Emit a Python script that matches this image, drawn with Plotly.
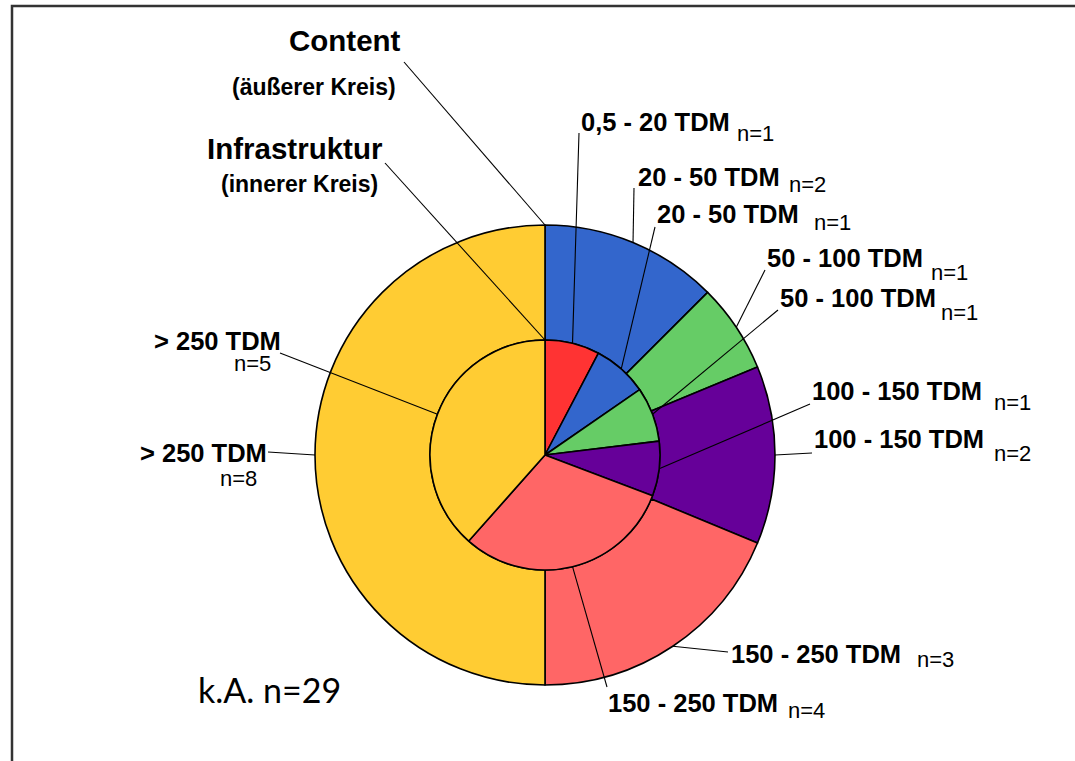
import math
import plotly.graph_objects as go

W, H = 1075, 761

# Outer ring: Content budgets (number of answers per class)
content_labels = ["20 - 50 TDM", "50 - 100 TDM", "100 - 150 TDM", "150 - 250 TDM", "> 250 TDM"]
content_counts = [2, 1, 2, 3, 8]
content_colors = ["#3366CC", "#66CC66", "#660099", "#FF6666", "#FFCC33"]

# Inner disc: infrastructure budgets
infra_labels = ["0,5 - 20 TDM", "20 - 50 TDM", "50 - 100 TDM", "100 - 150 TDM", "150 - 250 TDM", "> 250 TDM"]
infra_counts = [1, 1, 1, 1, 4, 5]
infra_colors = ["#FF3333", "#3366CC", "#66CC66", "#660099", "#FF6666", "#FFCC33"]

no_answer = 29

# Geometry of the chart in pixels
CX, CY = 545, 455
R_OUT, R_IN = 230, 115

FONT_BOLD = "Liberation Sans, Arial, sans-serif"


def px(x, y):
    return x / W, 1 - y / H


def domain(r):
    return dict(x=[(CX - r) / W, (CX + r) / W],
                y=[1 - (CY + r) / H, 1 - (CY - r) / H])


def slice_point(counts, i, r):
    """Point at the middle angle of slice i (clockwise from 12 o'clock)."""
    total = sum(counts)
    a = 2 * math.pi * (sum(counts[:i]) + counts[i] / 2) / total
    return CX + r * math.sin(a), CY - r * math.cos(a)


fig = go.Figure()
fig.add_trace(go.Pie(
    labels=content_labels, values=content_counts, sort=False,
    direction="clockwise", rotation=0, hole=R_IN / R_OUT,
    marker=dict(colors=content_colors, line=dict(color="black", width=1.6)),
    textinfo="none", showlegend=False, domain=domain(R_OUT), name="Content",
))
fig.add_trace(go.Pie(
    labels=infra_labels, values=infra_counts, sort=False,
    direction="clockwise", rotation=0,
    marker=dict(colors=infra_colors, line=dict(color="black", width=1.6)),
    textinfo="none", showlegend=False, domain=domain(R_IN), name="Infrastruktur",
))

annotations = []
shapes = []


def text(x, y, s, size, bold=True, anchor="left", family=FONT_BOLD):
    ax, ay = px(x, y)
    annotations.append(dict(
        x=ax, y=ay, xref="paper", yref="paper", showarrow=False,
        text=f"<b>{s}</b>" if bold else s, xanchor=anchor, yanchor="middle",
        font=dict(family=family, size=size, color="black"),
    ))


def leader(x0, y0, x1, y1):
    a0, b0 = px(x0, y0)
    a1, b1 = px(x1, y1)
    shapes.append(dict(type="line", xref="paper", yref="paper",
                       x0=a0, y0=b0, x1=a1, y1=b1,
                       line=dict(color="black", width=1.1)))


# label placement: (label pos, n= pos, anchor, leader start)
content_place = [
    ((636, 177), (787, 184), "left", (634, 188)),
    ((765, 258), (929, 272), "left", (765, 270)),
    ((812, 439), (992, 453), "left", (812, 453)),
    ((729, 654), (915, 659), "left", (728, 652)),
    ((269, 453), (259, 478), "right", (268, 452)),
]
infra_place = [
    ((579, 122), (735, 133), "left", (579, 133)),
    ((655, 214), (812, 222), "left", (655, 227)),
    ((778, 298), (939, 312), "left", (778, 310)),
    ((810, 391), (992, 402), "left", (810, 404)),
    ((606, 703), (786, 710), "left", (607, 687)),
    ((283, 341), (273, 363), "right", (280, 353)),
]

for counts, labels, places, r in ((content_counts, content_labels, content_place, R_OUT),
                                  (infra_counts, infra_labels, infra_place, R_IN)):
    for i, (lab, npos, anchor, start) in enumerate(places):
        text(lab[0], lab[1], labels[i], 25.5, anchor=anchor)
        text(npos[0], npos[1], f"n={counts[i]}", 22, bold=False, anchor=anchor)
        ex, ey = slice_point(counts, i, r)
        leader(start[0], start[1], ex, ey)

# ring titles
text(345, 41, "Content", 29.5, anchor="center")
text(314, 87, "(äußerer Kreis)", 23, anchor="center")
text(295, 148, "Infrastruktur", 29.5, anchor="center")
text(299, 184, "(innerer Kreis)", 23, anchor="center")
leader(404, 62, CX, CY - R_OUT)
leader(385, 163, CX, CY - R_IN)

text(196, 689, f"k.A. n={no_answer}", 34, bold=False, family="Lato, sans-serif")

# frame around the chart
fx0, fy1 = px(12, 6)
shapes.append(dict(type="rect", xref="paper", yref="paper",
                   x0=fx0, y0=-0.05, x1=1.05, y1=fy1,
                   line=dict(color="#333333", width=2.5), fillcolor="rgba(0,0,0,0)"))

fig.update_layout(
    width=W, height=H, margin=dict(l=0, r=0, t=0, b=0),
    paper_bgcolor="white", plot_bgcolor="white",
    annotations=annotations, shapes=shapes,
)

fig.write_html("out.html")
